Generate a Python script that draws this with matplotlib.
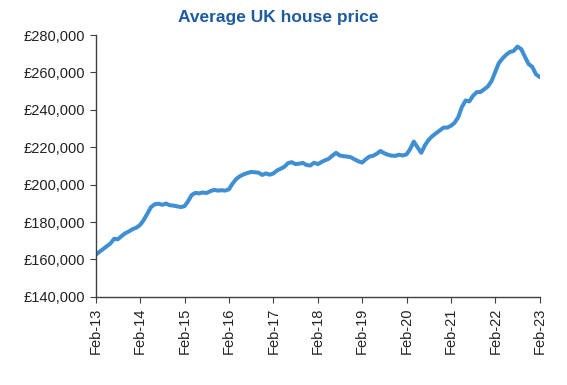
import matplotlib.pyplot as plt
import matplotlib.dates as mdates
import matplotlib.ticker as mticker
import pandas as pd

# monthly average UK house price, Feb-13 .. Feb-23 (thousands of pounds)
prices_k = [
    162.5, 164.0, 165.5, 167.0, 168.5, 171.0, 170.8, 172.5, 174.0, 175.0, 176.2, 177.0,  # Feb-13..Jan-14
    178.5, 181.0, 184.5, 188.0, 189.5, 189.8, 189.2, 189.9, 189.0, 188.8, 188.4, 188.0,  # Feb-14..Jan-15
    188.5, 191.0, 194.5, 195.6, 195.3, 195.8, 195.5, 196.5, 197.2, 196.8, 197.0, 196.8,  # Feb-15..Jan-16
    197.5, 200.5, 203.0, 204.5, 205.5, 206.2, 206.8, 206.6, 206.4, 205.2, 206.0, 205.3,  # Feb-16..Jan-17
    206.0, 207.5, 208.5, 209.5, 211.5, 212.0, 211.0, 211.2, 211.6, 210.5, 210.2, 211.7,  # Feb-17..Jan-18
    211.0, 212.0, 213.0, 213.8, 215.5, 217.0, 215.6, 215.2, 215.0, 214.6, 213.5, 212.5,  # Feb-18..Jan-19
    211.8, 213.5, 215.0, 215.4, 216.5, 218.0, 216.8, 216.0, 215.5, 215.4, 216.0, 215.6,  # Feb-19..Jan-20
    216.2, 219.0, 223.0, 220.0, 217.0, 221.0, 224.0, 226.0, 227.5, 229.0, 230.5, 230.5,  # Feb-20..Jan-21
    231.5, 233.0, 236.0, 241.5, 245.0, 244.5, 247.5, 249.5, 249.5, 251.0, 252.5, 255.5,  # Feb-21..Jan-22
    260.5, 265.0, 267.5, 269.5, 271.0, 271.5, 273.8, 272.5, 268.5, 264.5, 263.0, 259.0,  # Feb-22..Jan-23
    257.5,                                                                                # Feb-23
]
months = pd.date_range("2013-02-01", periods=len(prices_k), freq="MS")
prices = [p * 1000 for p in prices_k]

fig = plt.figure(figsize=(5.67, 3.85), dpi=100)
ax = fig.add_axes([0.169, 0.229, 0.783, 0.680])

ax.plot(months, prices, color="#3F8FD2", lw=2.9, solid_capstyle="round")

ax.set_ylim(140000, 280000)
ax.set_xlim(months[0], months[-1])
ax.yaxis.set_major_locator(mticker.MultipleLocator(20000))
ax.yaxis.set_major_formatter(mticker.FuncFormatter(lambda v, p: "£{:,.0f}".format(v)))
ax.xaxis.set_major_locator(mdates.MonthLocator(bymonth=2))
ax.xaxis.set_major_formatter(mdates.DateFormatter("%b-%y"))

for s in ["top", "right"]:
    ax.spines[s].set_visible(False)
for s in ["left", "bottom"]:
    ax.spines[s].set_color("#404040")
    ax.spines[s].set_linewidth(1.0)

ax.tick_params(axis="both", direction="out", length=4, color="#404040",
               labelsize=10.5, labelcolor="#222222")
for lab in ax.get_xticklabels():
    lab.set_rotation(90)
for lab in ax.get_xticklabels() + ax.get_yticklabels():
    lab.set_fontfamily("Liberation Sans")

fig.text(0.49, 0.955, "Average UK house price", ha="center", va="center",
         fontsize=12.5, color="#1F5C9E", fontweight="bold", family="Liberation Sans")

fig.savefig("out.png", dpi=100)
